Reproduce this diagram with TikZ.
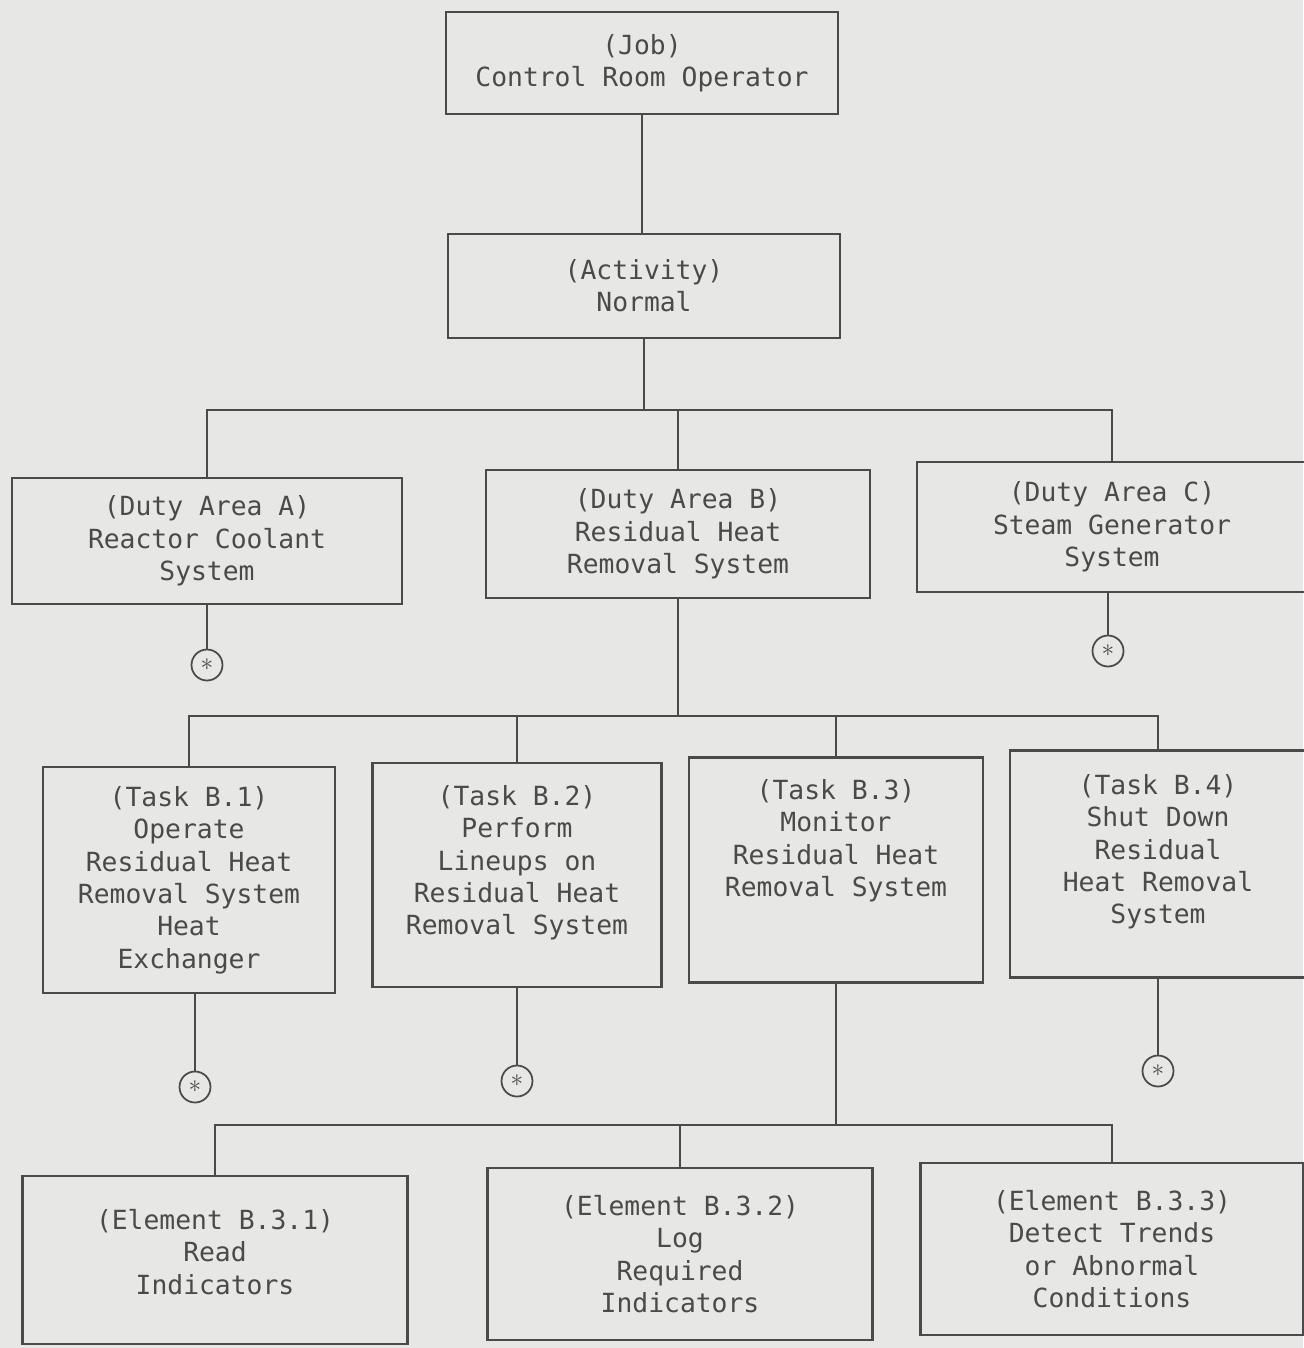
\documentclass[tikz,border=0pt]{standalone}
\usepackage{fontspec}
\setmonofont{DejaVu Sans Mono}
\usepackage{tikz}

\definecolor{paper}{HTML}{E7E7E5}
\definecolor{ink}{HTML}{4A4A4A}

\tikzset{
  box/.style={draw=ink, line width=1.2pt, text=ink, align=center, inner sep=0pt,
    font=\ttfamily\fontsize{15}{18.4}\selectfont},
  starmark/.style={draw=ink, line width=1pt, circle, minimum size=0.62cm, inner sep=0pt, text=ink,
    font=\Large},
  link/.style={draw=ink, line width=1.2pt}
}

\begin{document}
\begin{tikzpicture}[x=0.02cm, y=-0.02cm]
  % Hintergrund / Seitenrahmen
  \fill[paper] (0,0) rectangle (1303,1348);
  \useasboundingbox (0,0) rectangle (1303,1348);

  % Job und Activity
  \node[box, minimum width=7.84cm, minimum height=2.04cm] (job) at (642,63)
    {(Job)\\Control Room Operator};
  \node[box, minimum width=7.84cm, minimum height=2.08cm] (act) at (644,286)
    {(Activity)\\Normal};

  % Duty Areas
  \node[box, minimum width=7.8cm, minimum height=2.52cm] (dutyA) at (207,541)
    {(Duty Area A)\\Reactor Coolant\\System};
  \node[box, minimum width=7.68cm, minimum height=2.56cm] (dutyB) at (678,534)
    {(Duty Area B)\\Residual Heat\\Removal System};
  \node[box, minimum width=7.8cm, minimum height=2.6cm] (dutyC) at (1112,527)
    {(Duty Area C)\\Steam Generator\\System};

  % Tasks
  \node[box, minimum width=5.84cm, minimum height=4.52cm] (taskB1) at (189,880)
    {(Task B.1)\\Operate\\Residual Heat\\Removal System\\Heat\\Exchanger};
  \node[box, minimum width=5.78cm, minimum height=4.48cm] (taskB2) at (517,875)
    {(Task B.2)\\Perform\\Lineups on\\Residual Heat\\Removal System\\[-0.1em]};
  \node[box, minimum width=5.88cm, minimum height=4.5cm] (taskB3) at (836,870)
    {(Task B.3)\\Monitor\\Residual Heat\\Removal System\\[1.2em]};
  \node[box, minimum width=5.92cm, minimum height=4.54cm] (taskB4) at (1158,864)
    {(Task B.4)\\Shut Down\\Residual\\Heat Removal\\System\\[-0.1em]};

  % Elements
  \node[box, minimum width=7.7cm, minimum height=3.36cm] (elemB1) at (215,1260)
    {(Element B.3.1)\\Read\\Indicators\\[-0.6em]};
  \node[box, minimum width=7.7cm, minimum height=3.44cm] (elemB2) at (680,1254)
    {(Element B.3.2)\\Log\\Required\\Indicators};
  \node[box, minimum width=7.66cm, minimum height=3.44cm] (elemB3) at (1112,1249)
    {(Element B.3.3)\\Detect Trends\\or Abnormal\\Conditions};

  % Sternmarken
  \node[starmark] (starA) at (207,665) {$\ast$};
  \node[starmark] (starC) at (1108,651) {$\ast$};
  \node[starmark] (starB1) at (195,1087) {$\ast$};
  \node[starmark] (starB2) at (517,1081) {$\ast$};
  \node[starmark] (starB4) at (1158,1071) {$\ast$};

  % Verbindungen
  \coordinate (busDuty) at (644,410);
  \coordinate (busTask) at (678,716);
  \coordinate (busElem) at (836,1125);

  \draw[link] (act.north -| job.south) -- (job.south);
  \draw[link] (act.south) -- (busDuty);
  \draw[link] (dutyA.north) |- (busDuty) -| (dutyC.north);
  \draw[link] (dutyB.north) -- (dutyB.north |- busDuty);

  \draw[link] (dutyB.south) -- (busTask);
  \draw[link] (taskB1.north) |- (busTask) -| (taskB4.north);
  \draw[link] (taskB2.north) -- (taskB2.north |- busTask);
  \draw[link] (taskB3.north) -- (taskB3.north |- busTask);

  \draw[link] (taskB3.south) -- (busElem);
  \draw[link] (elemB1.north) |- (busElem) -| (elemB3.north);
  \draw[link] (elemB2.north) -- (elemB2.north |- busElem);

  \draw[link] (starA |- dutyA.south) -- (starA);
  \draw[link] (starC |- dutyC.south) -- (starC);
  \draw[link] (starB1 |- taskB1.south) -- (starB1);
  \draw[link] (starB2 |- taskB2.south) -- (starB2);
  \draw[link] (starB4 |- taskB4.south) -- (starB4);
\end{tikzpicture}
\end{document}
